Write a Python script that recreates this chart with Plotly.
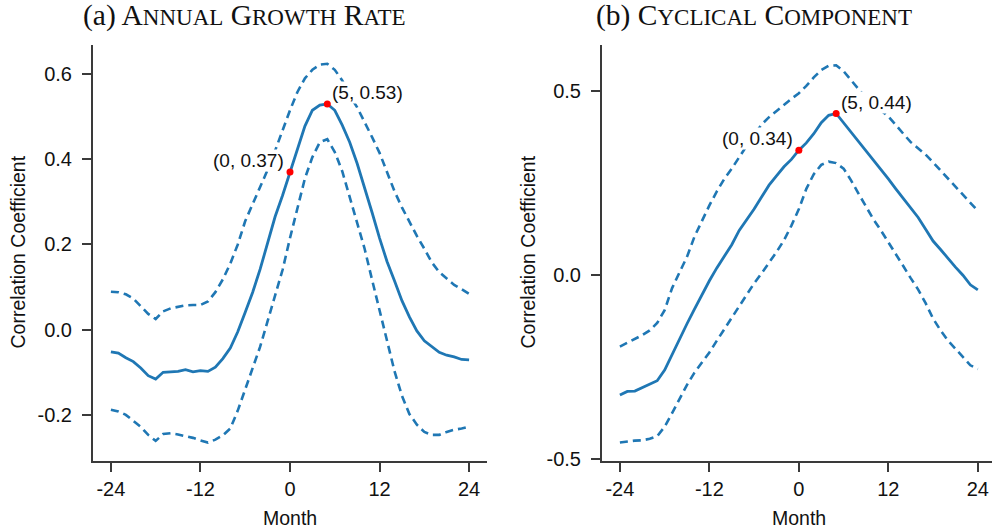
import plotly.graph_objects as go

# Lead/lag in months
months = list(range(-24, 25))

# (a) annual growth rate: correlation and confidence band
growth_mid = [-0.052, -0.055, -0.066, -0.075, -0.090, -0.108, -0.116, -0.100, -0.099, -0.098,
              -0.094, -0.099, -0.096, -0.098, -0.088, -0.068, -0.043, -0.005, 0.041, 0.088,
              0.142, 0.205, 0.265, 0.315, 0.37, 0.425, 0.478, 0.515, 0.527, 0.53,
              0.515, 0.480, 0.440, 0.390, 0.335, 0.275, 0.215, 0.160, 0.115, 0.068,
              0.030, -0.003, -0.026, -0.040, -0.053, -0.060, -0.064, -0.070, -0.071]
growth_hi = [0.089, 0.088, 0.083, 0.073, 0.055, 0.037, 0.025, 0.043, 0.050, 0.053,
             0.057, 0.058, 0.058, 0.066, 0.088, 0.118, 0.155, 0.200, 0.255, 0.295,
             0.335, 0.375, 0.420, 0.470, 0.515, 0.558, 0.590, 0.610, 0.622, 0.624,
             0.610, 0.585, 0.550, 0.522, 0.488, 0.452, 0.415, 0.370, 0.325, 0.287,
             0.253, 0.220, 0.190, 0.158, 0.135, 0.120, 0.105, 0.095, 0.084]
growth_lo = [-0.188, -0.192, -0.200, -0.215, -0.228, -0.247, -0.261, -0.245, -0.243, -0.246,
             -0.250, -0.254, -0.260, -0.265, -0.258, -0.248, -0.232, -0.190, -0.140, -0.092,
             -0.040, 0.020, 0.080, 0.140, 0.215, 0.285, 0.355, 0.405, 0.440, 0.447,
             0.417, 0.372, 0.312, 0.255, 0.190, 0.117, 0.045, -0.030, -0.097, -0.155,
             -0.198, -0.223, -0.240, -0.247, -0.247, -0.240, -0.235, -0.232, -0.228]

# (b) cyclical component: correlation and confidence band
cycle_mid = [-0.326, -0.316, -0.315, -0.306, -0.298, -0.287, -0.258, -0.215, -0.175, -0.132,
             -0.092, -0.052, -0.015, 0.020, 0.050, 0.083, 0.122, 0.150, 0.180, 0.213,
             0.245, 0.270, 0.295, 0.315, 0.34, 0.360, 0.385, 0.415, 0.435, 0.44,
             0.415, 0.390, 0.365, 0.340, 0.315, 0.290, 0.262, 0.235, 0.210, 0.183,
             0.157, 0.125, 0.093, 0.070, 0.045, 0.022, 0.000, -0.026, -0.040]
cycle_hi = [-0.194, -0.184, -0.174, -0.163, -0.150, -0.130, -0.095, -0.035, 0.008, 0.050,
            0.105, 0.148, 0.190, 0.228, 0.262, 0.290, 0.322, 0.352, 0.382, 0.410,
            0.430, 0.447, 0.463, 0.480, 0.495, 0.515, 0.538, 0.558, 0.570, 0.571,
            0.555, 0.530, 0.507, 0.482, 0.460, 0.448, 0.432, 0.410, 0.385, 0.362,
            0.345, 0.328, 0.307, 0.285, 0.263, 0.240, 0.218, 0.195, 0.175]
cycle_lo = [-0.455, -0.452, -0.450, -0.449, -0.445, -0.438, -0.412, -0.375, -0.335, -0.298,
            -0.265, -0.237, -0.210, -0.178, -0.147, -0.115, -0.085, -0.056, -0.022, 0.005,
            0.033, 0.063, 0.095, 0.135, 0.180, 0.235, 0.275, 0.300, 0.309, 0.305,
            0.290, 0.258, 0.222, 0.185, 0.152, 0.122, 0.090, 0.060, 0.025, -0.008,
            -0.039, -0.076, -0.118, -0.150, -0.178, -0.200, -0.224, -0.245, -0.255]

# Highlighted lags
marked_months = [0, 5]

# Axis ticks
month_ticks = [-24, -12, 0, 12, 24]
month_tick_text = ["-24", "-12", "0", "12", "24"]
growth_ticks = [-0.2, 0.0, 0.2, 0.4, 0.6]
growth_tick_text = ["-0.2", "0.0", "0.2", "0.4", "0.6"]
cycle_ticks = [-0.5, 0.0, 0.5]
cycle_tick_text = ["-0.5", "0.0", "0.5"]

# Panel titles: label prefix, then words set in small capitals
panel_labels = ["(a)", "(b)"]
panel_words = [["Annual", "Growth", "Rate"], ["Cyclical", "Component"]]
x_title = "Month"
y_title = "Correlation Coefficient"

W, H = 992, 531
HP = 521  # vertical pixel scale used for paper placement
BLUE = "#1f77b4"
AXIS = "#3a3a3a"
SANS = "Liberation Sans, Arial, Helvetica, sans-serif"
SERIF = "Liberation Serif, Times New Roman, serif"
CAP_SIZE, SC_SIZE = 29.5, 23


def py(px):
    return 1 - px / HP


def small_caps(word):
    return f"{word[0]}<span style='font-size:{SC_SIZE}px'>{word[1:].upper()}</span>"


fig = go.Figure()

panels = [
    dict(mid=growth_mid, hi=growth_hi, lo=growth_lo, xa="x", ya="y"),
    dict(mid=cycle_mid, hi=cycle_hi, lo=cycle_lo, xa="x2", ya="y2"),
]

for p in panels:
    for band in (p["hi"], p["lo"]):
        fig.add_trace(go.Scatter(
            x=months, y=band, mode="lines", xaxis=p["xa"], yaxis=p["ya"],
            line=dict(color=BLUE, width=2.6, dash="8px,5px"),
            showlegend=False, hoverinfo="skip"))
    fig.add_trace(go.Scatter(
        x=months, y=p["mid"], mode="lines", xaxis=p["xa"], yaxis=p["ya"],
        line=dict(color=BLUE, width=2.8), showlegend=False))
    mx = marked_months
    my = [p["mid"][months.index(m)] for m in mx]
    fig.add_trace(go.Scatter(
        x=mx, y=my, mode="markers", xaxis=p["xa"], yaxis=p["ya"],
        marker=dict(color="red", size=7), showlegend=False))
    for m, v in zip(mx, my):
        left = m == mx[0]
        fig.add_annotation(
            x=m, y=v, xref=p["xa"], yref=p["ya"],
            text=f"({m}, {v:.2f})", showarrow=False,
            xanchor="right" if left else "left", yanchor="middle",
            xshift=-5 if left else 4, yshift=12 if left else 11,
            bgcolor="white", borderpad=0,
            font=dict(family=SANS, size=19, color="#111"))

axis_common = dict(
    showline=True, linecolor=AXIS, linewidth=2, ticks="outside", ticklen=9,
    tickwidth=1.6, tickcolor=AXIS, showgrid=False, zeroline=False,
    tickfont=dict(family=SANS, size=20, color="#111"), mirror=False,
)

y_dom = [py(460), py(45)]
fig.update_layout(
    width=W, height=H,
    margin=dict(l=0, r=0, t=0, b=0),
    paper_bgcolor="white", plot_bgcolor="white",
    xaxis=dict(domain=[93 / W, 487 / W], range=[-26.4, 26.4], anchor="y",
               tickvals=month_ticks, ticktext=month_tick_text,
               ticklabelstandoff=0, **axis_common),
    yaxis=dict(domain=y_dom, range=[-0.308, 0.668], anchor="x",
               tickvals=growth_ticks, ticktext=growth_tick_text,
               ticklabelstandoff=6, **axis_common),
    xaxis2=dict(domain=[602 / W, 1.0], range=[-26.4, 25.9], anchor="y2",
                tickvals=month_ticks, ticktext=month_tick_text,
                ticklabelstandoff=0, **axis_common),
    yaxis2=dict(domain=y_dom, range=[-0.505, 0.626], anchor="x2",
                tickvals=cycle_ticks, ticktext=cycle_tick_text,
                ticklabelstandoff=6, **axis_common),
)

# Panel titles and axis titles
for cx, lab, words in zip([244, 754], panel_labels, panel_words):
    title = lab + " " + " ".join(small_caps(w) for w in words)
    fig.add_annotation(
        x=cx / W, y=py(15), xref="paper", yref="paper", text=title,
        showarrow=False, xanchor="center", yanchor="middle",
        font=dict(family=SERIF, size=CAP_SIZE, color="#111"))

for cx in [290, 799]:
    fig.add_annotation(
        x=cx / W, y=py(517), xref="paper", yref="paper", text=x_title,
        showarrow=False, xanchor="center", yanchor="middle",
        font=dict(family=SANS, size=19.5, color="#111"))

for cx in [18, 528]:
    fig.add_annotation(
        x=cx / W, y=py(252), xref="paper", yref="paper", text=y_title,
        showarrow=False, xanchor="center", yanchor="middle", textangle=-90,
        font=dict(family=SANS, size=19.5, color="#111"))

fig.write_html("out.html")
